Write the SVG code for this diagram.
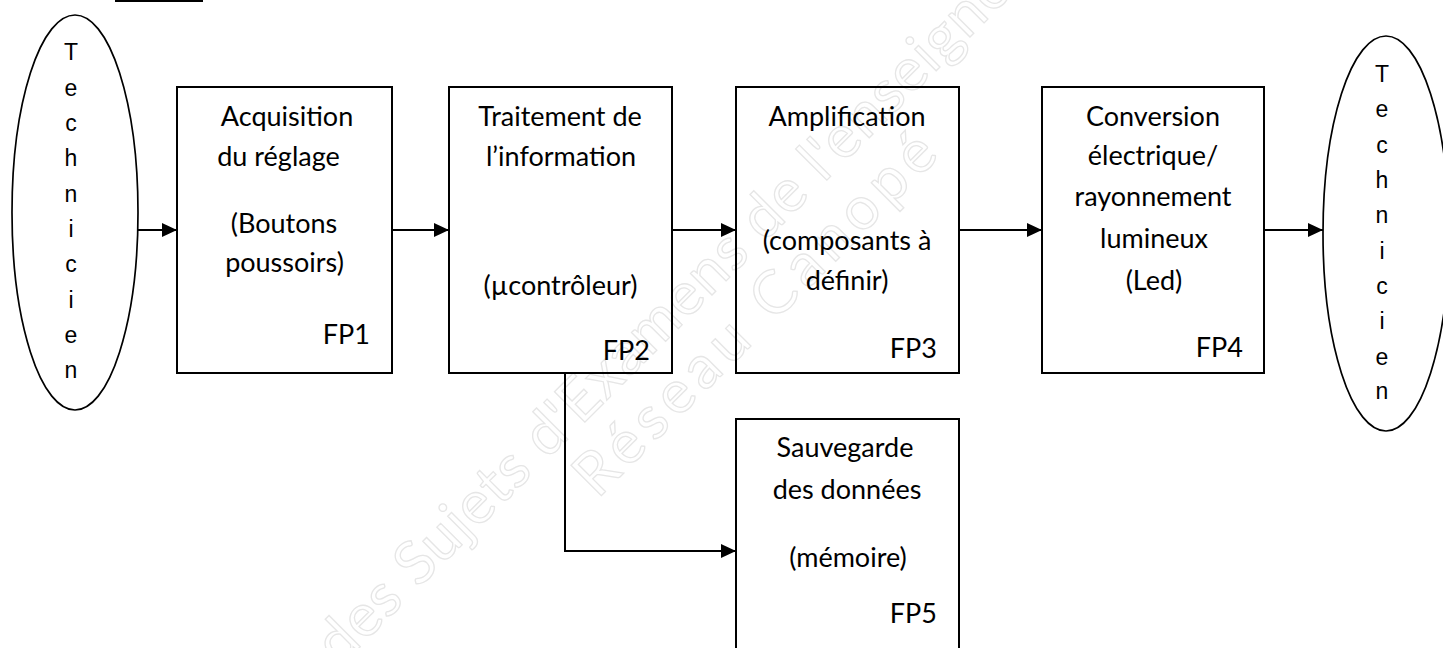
<svg xmlns="http://www.w3.org/2000/svg" width="1443" height="648" viewBox="0 0 1443 648">
  <defs>
    <style>
      .box { fill: none; stroke: #000; stroke-width: 2; }
      .ell { fill: none; stroke: #000; stroke-width: 1.7; }
      .conn { fill: none; stroke: #000; stroke-width: 2; }
      .t { font-family: Lato, "Open Sans", sans-serif; font-size: 27px; fill: #000; text-anchor: middle; }
      .fp { font-family: Lato, "Open Sans", sans-serif; font-size: 27px; fill: #000; text-anchor: end; }
      .v { font-family: "Liberation Sans", Arial, sans-serif; font-size: 23px; fill: #000; text-anchor: middle; }
      .wm { font-family: Lato, "Open Sans", sans-serif; font-size: 60px; fill: none; stroke: #e6e6e6; stroke-width: 1.3; text-anchor: middle; }
    </style>
    <marker id="arr" markerUnits="userSpaceOnUse" markerWidth="15" markerHeight="14" refX="15" refY="7" orient="auto">
      <path d="M0,0 L15,7 L0,14 Z" fill="#000"/>
    </marker>
  </defs>

  <g id="watermark">
    <text class="wm" x="711" y="296" textLength="1904" transform="rotate(-45 711 296)">Base Nationale des Sujets d'Examens de l'enseignement professionnel</text>
    <text class="wm" x="769" y="328" textLength="485" transform="rotate(-45 769 328)">Réseau Canopé</text>
  </g>

  <line x1="115" y1="1" x2="203" y2="1" stroke="#000" stroke-width="2"/>

  <g id="technicien-in">
    <ellipse class="ell" cx="75" cy="212.5" rx="63" ry="197.5"/>
    <text class="v" x="71" y="60">T</text>
    <text class="v" x="71" y="95.5">e</text>
    <text class="v" x="71" y="131">c</text>
    <text class="v" x="71" y="166">h</text>
    <text class="v" x="71" y="201.5">n</text>
    <text class="v" x="71" y="237">i</text>
    <text class="v" x="71" y="272">c</text>
    <text class="v" x="71" y="307.5">i</text>
    <text class="v" x="71" y="343">e</text>
    <text class="v" x="71" y="378">n</text>
  </g>

  <g id="fp1">
    <rect class="box" x="177" y="87" width="215" height="286"/>
    <text class="t" x="287" y="126">Acquisition</text>
    <text class="t" x="278.5" y="166">du réglage</text>
    <text class="t" x="284" y="233">(Boutons</text>
    <text class="t" x="284.5" y="272">poussoirs)</text>
    <text class="fp" x="370" y="344">FP1</text>
  </g>

  <g id="fp2">
    <rect class="box" x="449" y="87" width="223" height="286"/>
    <text class="t" x="560" y="126">Traitement de</text>
    <text class="t" x="561" y="166">l’information</text>
    <text class="t" x="560.5" y="295">(µcontrôleur)</text>
    <text class="fp" x="650" y="360">FP2</text>
  </g>

  <g id="fp3">
    <rect class="box" x="736" y="87" width="223" height="286"/>
    <text class="t" x="847" y="126">Amplification</text>
    <text class="t" x="847" y="250">(composants à</text>
    <text class="t" x="847" y="290">définir)</text>
    <text class="fp" x="937" y="358">FP3</text>
  </g>

  <g id="fp4">
    <rect class="box" x="1042" y="87" width="222" height="286"/>
    <text class="t" x="1153" y="126">Conversion</text>
    <text class="t" x="1153" y="165">électrique/</text>
    <text class="t" x="1153" y="206">rayonnement</text>
    <text class="t" x="1154" y="248">lumineux</text>
    <text class="t" x="1154" y="290">(Led)</text>
    <text class="fp" x="1243" y="357">FP4</text>
  </g>

  <g id="fp5">
    <rect class="box" x="736" y="419" width="223" height="260"/>
    <text class="t" x="845" y="457">Sauvegarde</text>
    <text class="t" x="847" y="499">des données</text>
    <text class="t" x="848" y="567">(mémoire)</text>
    <text class="fp" x="937" y="623">FP5</text>
  </g>

  <g id="technicien-out">
    <ellipse class="ell" cx="1386" cy="233.5" rx="63" ry="197.5"/>
    <text class="v" x="1382" y="82">T</text>
    <text class="v" x="1382" y="117">e</text>
    <text class="v" x="1382" y="152.5">c</text>
    <text class="v" x="1382" y="188">h</text>
    <text class="v" x="1382" y="223">n</text>
    <text class="v" x="1382" y="258.5">i</text>
    <text class="v" x="1382" y="294">c</text>
    <text class="v" x="1382" y="329">i</text>
    <text class="v" x="1382" y="364.5">e</text>
    <text class="v" x="1382" y="399">n</text>
  </g>

  <g id="connectors">
    <path class="conn" d="M138,230 H177" marker-end="url(#arr)"/>
    <path class="conn" d="M392,230 H449" marker-end="url(#arr)"/>
    <path class="conn" d="M672,230 H736" marker-end="url(#arr)"/>
    <path class="conn" d="M959,230 H1042" marker-end="url(#arr)"/>
    <path class="conn" d="M1264,230 H1323" marker-end="url(#arr)"/>
    <path class="conn" d="M565,373 V551 H736" marker-end="url(#arr)"/>
  </g>
</svg>
